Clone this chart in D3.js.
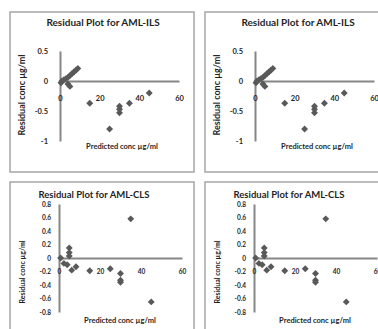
<!DOCTYPE html>
<html>
<head>
<meta charset="utf-8">
<script src="https://cdn.jsdelivr.net/npm/d3@7"></script>
<style>
  body { margin: 0; background: #fff; }
  text { font-family: Lato, "Open Sans", sans-serif; font-weight: bold; fill: #1f1f1f; }
</style>
</head>
<body>
<script>
// data
var xTicks = [0, 20, 40, 60];

var ilsYTicks = [0.5, 0, -0.5, -1];
var ilsX = [0.5, 1, 2, 3, 4, 5, 6, 7, 8, 9, 4, 5, 15, 25, 30, 30, 30, 35, 45];
var ilsY = [-0.03, 0, 0.02, 0.04, 0.06, 0.09, 0.12, 0.15, 0.18, 0.21, -0.05, -0.09, -0.37, -0.8, -0.42, -0.47, -0.53, -0.37, -0.2];

var clsYTicks = [0.8, 0.6, 0.4, 0.2, 0, -0.2, -0.4, -0.6, -0.8];
var clsX = [0.8, 2.4, 4, 5, 5, 5, 6.2, 8.3, 15, 25, 30, 30, 30, 35, 45];
var clsY = [0, -0.08, -0.1, 0.15, 0.08, 0.03, -0.18, -0.13, -0.19, -0.16, -0.23, -0.33, -0.36, 0.58, -0.65];

var width = 378, height = 329;

var svg = d3.select("body").append("svg")
	.attr("width", width)
	.attr("height", height);

// one chart panel, placed at dx,dy
function panel(dx, dy, opt) {
	var g = svg.append("g").attr("transform", "translate(" + dx + "," + dy + ")");

	g.append("rect")
		.attr("x", 0).attr("y", 0)
		.attr("width", 184).attr("height", opt.h)
		.attr("fill", "#fff")
		.attr("stroke", "#a6a6a6")
		.attr("stroke-width", 1.5);

	var x = d3.scaleLinear().domain([0, 60]).range(opt.xr);
	var y = d3.scaleLinear().domain(opt.yd).range(opt.yr);

	var yAxis = g.append("g")
		.attr("transform", "translate(" + opt.xr[0] + ",0)")
		.call(d3.axisLeft(y).tickValues(opt.yTicks).tickSize(0).tickPadding(opt.yPad).tickFormat(String));

	var xAxis = g.append("g")
		.attr("transform", "translate(0," + y(0) + ")")
		.call(d3.axisBottom(x).tickValues(xTicks).tickSize(0).tickPadding(opt.xPad).tickFormat(String));

	[yAxis, xAxis].forEach(function(a) {
		a.select(".domain").attr("stroke", "#868686").attr("stroke-width", 2);
		a.selectAll("text").attr("font-size", opt.tickFont).attr("fill", "#1f1f1f")
			.attr("font-family", "Lato, sans-serif");
	});

	var pts = opt.xs.map(function(v, i) { return [v, opt.ys[i]]; });
	g.append("g").selectAll("path")
		.data(pts)
		.enter().append("path")
		.attr("d", d3.symbol().type(d3.symbolSquare).size(24))
		.attr("transform", function(d) { return "translate(" + x(d[0]) + "," + y(d[1]) + ") rotate(45)"; })
		.attr("fill", "#595959");

	g.append("text")
		.attr("x", opt.titleX).attr("y", opt.titleY)
		.attr("text-anchor", "middle")
		.attr("font-size", opt.titleFont)
		.text(opt.title);

	g.append("text")
		.attr("x", opt.xlabX).attr("y", opt.xlabY)
		.attr("text-anchor", "middle")
		.attr("font-size", 7.5)
		.text("Predicted conc µg/ml");

	g.append("text")
		.attr("transform", "translate(" + opt.ylabX + "," + opt.ylabY + ") rotate(-90)")
		.attr("text-anchor", "middle")
		.attr("font-size", opt.ylabFont)
		.text("Residual conc µg/ml");
}

var ils = {
	h: 160, title: "Residual Plot for AML-ILS", titleX: 93, titleY: 14, titleFont: 10,
	xr: [50, 169], yd: [-1, 0.5], yr: [129, 39], yTicks: ilsYTicks, yPad: 12, xPad: 15,
	tickFont: 7.5, xs: ilsX, ys: ilsY,
	xlabX: 112, xlabY: 137, ylabX: 15, ylabY: 83, ylabFont: 9
};
var cls = {
	h: 160, title: "Residual Plot for AML-CLS", titleX: 84, titleY: 16, titleFont: 9.5,
	xr: [49, 172], yd: [-0.8, 0.8], yr: [130, 22], yTicks: clsYTicks, yPad: 8, xPad: 11,
	tickFont: 6.5, xs: clsX, ys: clsY,
	xlabX: 110, xlabY: 141, ylabX: 15, ylabY: 90, ylabFont: 7
};

panel(10, 12, ils);
panel(205, 12, ils);
panel(10, 182, cls);
panel(205, 182, cls);
</script>
</body>
</html>
